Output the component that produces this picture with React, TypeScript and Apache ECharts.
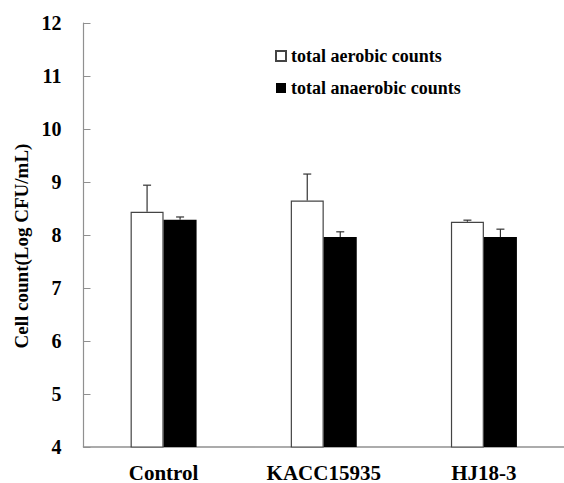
import React, { useEffect, useRef } from "react";
import * as echarts from "echarts";

const categories = ["Control", "KACC15935", "HJ18-3"];
const aerobic = [8.44, 8.65, 8.25];
const aerobicErr = [0.5, 0.5, 0.03];
const anaerobic = [8.29, 7.96, 7.96];
const anaerobicErr = [0.05, 0.1, 0.15];
const seriesNames = ["total aerobic counts", "total anaerobic counts"];

const FONT = "Liberation Serif, Times New Roman, serif";

export default function App() {
  const ref = useRef<HTMLDivElement>(null);
  useEffect(() => {
    document.body.style.margin = "0";
    const chart = echarts.init(ref.current!, null, { renderer: "svg" });
    const barW = 33;
    const errData = (vals: number[], errs: number[], s: number) =>
      vals.map((v, i) => [i, v, v + errs[i], s]);
    const renderErr = (params: any, api: any) => {
      const i = api.value(0);
      const v = api.value(1);
      const top = api.value(2);
      const s = api.value(3);
      const off = s === 0 ? -barW / 2 : barW / 2;
      const p0 = api.coord([i, v]);
      const p1 = api.coord([i, top]);
      const x = p0[0] + off;
      const style = { stroke: "#333", lineWidth: 1.2 };
      return {
        type: "group",
        children: [
          { type: "line", shape: { x1: x, y1: p0[1], x2: x, y2: p1[1] }, style },
          { type: "line", shape: { x1: x - 4, y1: p1[1], x2: x + 4, y2: p1[1] }, style },
        ],
      };
    };
    chart.setOption({
      animation: false,
      backgroundColor: "#fff",
      textStyle: { fontFamily: FONT },
      grid: { left: 83.5, right: -12, top: 23, bottom: 36 },
      legend: {
        orient: "vertical",
        left: 270,
        top: 42,
        icon: "rect",
        itemWidth: 10,
        itemHeight: 10,
        itemGap: 14,
        data: seriesNames,
        textStyle: { fontFamily: FONT, fontWeight: "bold", fontSize: 18, color: "#000" },
      },
      xAxis: {
        type: "category",
        data: categories,
        axisLine: { lineStyle: { color: "#909090", width: 1.5 } },
        axisTick: { show: false },
        axisLabel: { fontFamily: FONT, fontWeight: "bold", fontSize: 21, color: "#000", margin: 15 },
      },
      yAxis: {
        type: "value",
        min: 4,
        max: 12,
        interval: 1,
        name: "Cell count(Log CFU/mL)",
        nameLocation: "middle",
        nameGap: 50,
        nameTextStyle: {
          fontFamily: FONT,
          fontWeight: "bold",
          fontSize: 19,
          color: "#000",
          padding: [0, 22, 0, 0],
        },
        axisLine: { show: true, lineStyle: { color: "#909090", width: 1.2 } },
        axisTick: { show: true, inside: true, length: 7, lineStyle: { color: "#909090" } },
        splitLine: { show: false },
        axisLabel: { fontFamily: FONT, fontWeight: "bold", fontSize: 20, color: "#000", margin: 22 },
      },
      series: [
        {
          name: seriesNames[0],
          type: "bar",
          data: aerobic,
          barWidth: barW,
          barGap: "0%",
          itemStyle: { color: "#fff", borderColor: "#444", borderWidth: 1.2 },
        },
        {
          name: seriesNames[1],
          type: "bar",
          data: anaerobic,
          barWidth: barW,
          barGap: "0%",
          itemStyle: { color: "#000", borderColor: "#000", borderWidth: 0 },
        },
        {
          type: "custom",
          renderItem: renderErr,
          data: errData(aerobic, aerobicErr, 0),
          encode: { x: 0, y: 2 },
          z: 5,
          silent: true,
        },
        {
          type: "custom",
          renderItem: renderErr,
          data: errData(anaerobic, anaerobicErr, 1),
          encode: { x: 0, y: 2 },
          z: 5,
          silent: true,
        },
      ],
    });
    return () => chart.dispose();
  }, []);
  return <div ref={ref} style={{ width: 564, height: 483 }} />;
}
